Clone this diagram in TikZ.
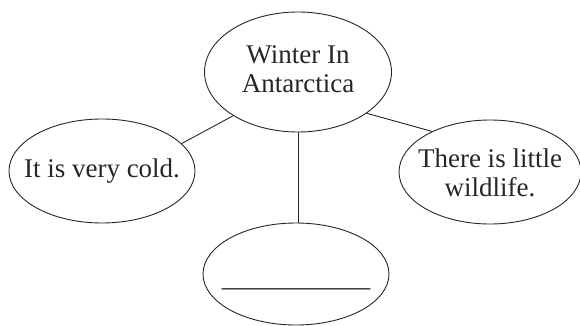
\documentclass[tikz,border=0pt]{standalone}
\usepackage{fontspec}
\setmainfont{Liberation Serif}
\usetikzlibrary{shapes.geometric}
\begin{document}
\begin{tikzpicture}[x=1pt,y=-1pt,
  bubble/.style={draw=black!85, line width=0.9pt, ellipse, inner sep=0pt},
  words/.style={align=center, inner sep=0pt, font=\fontsize{27}{29.5}\selectfont, text=black!85},
  link/.style={draw=black!85, line width=0.9pt}]
\useasboundingbox (0,0) rectangle (580,326);
\node[bubble, minimum width=187pt, minimum height=120pt,
  label={[words, yshift=3pt]center:Winter In\\Antarctica}] (top) at (298,72) {};
\node[bubble, minimum width=186pt, minimum height=104pt,
  label={[words]center:It is very cold.}] (left) at (102,171) {};
\node[bubble, minimum width=182pt, minimum height=104pt,
  label={[words, yshift=-1pt]center:There is little\\wildlife.}] (right) at (490,172) {};
\node[bubble, minimum width=186pt, minimum height=102pt,
  label={[words, yshift=-14pt]center:\_\_\_\_\_\_\_\_\_\_\_}] (bottom) at (296,274) {};
\draw[link] (top.214.5) -- (left.19);
\draw[link] (top.329) -- (right.145);
\draw[link] (top.south) -- (top.south |- bottom.north);
\end{tikzpicture}
\end{document}
